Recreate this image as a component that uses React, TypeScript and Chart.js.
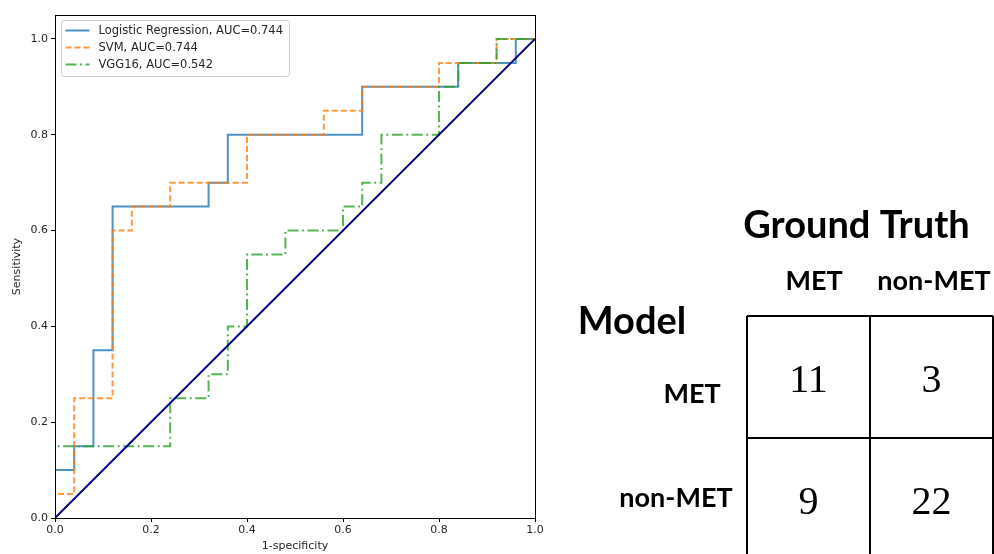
import React, { useEffect, useRef } from "react";
import { Chart, registerables } from "chart.js";

Chart.register(...registerables);

// ---------- ROC data ----------
const lrFpr = [0, 0, 0.04, 0.04, 0.08, 0.08, 0.12, 0.12, 0.32, 0.32, 0.36, 0.36, 0.64, 0.64, 0.84, 0.84, 0.96, 0.96, 1];
const lrTpr = [0, 0.1, 0.1, 0.15, 0.15, 0.35, 0.35, 0.65, 0.65, 0.7, 0.7, 0.8, 0.8, 0.9, 0.9, 0.95, 0.95, 1, 1];

const svmFpr = [0, 0, 0.04, 0.04, 0.12, 0.12, 0.16, 0.16, 0.24, 0.24, 0.4, 0.4, 0.56, 0.56, 0.64, 0.64, 0.8, 0.8, 0.92, 0.92, 1];
const svmTpr = [0, 0.05, 0.05, 0.25, 0.25, 0.6, 0.6, 0.65, 0.65, 0.7, 0.7, 0.8, 0.8, 0.85, 0.85, 0.9, 0.9, 0.95, 0.95, 1, 1];

const vggFpr = [0, 0, 0.24, 0.24, 0.32, 0.32, 0.36, 0.36, 0.4, 0.4, 0.48, 0.48, 0.6, 0.6, 0.64, 0.64, 0.68, 0.68, 0.8, 0.8, 0.84, 0.84, 0.92, 0.92, 1];
const vggTpr = [0, 0.15, 0.15, 0.25, 0.25, 0.3, 0.3, 0.4, 0.4, 0.55, 0.55, 0.6, 0.6, 0.65, 0.65, 0.7, 0.7, 0.8, 0.8, 0.9, 0.9, 0.95, 0.95, 1, 1];

const diagFpr = [0, 1];
const diagTpr = [0, 1];

const seriesLabels = ["Logistic Regression, AUC=0.744", "SVM, AUC=0.744", "VGG16, AUC=0.542"];
const xTicks = [0, 0.2, 0.4, 0.6, 0.8, 1.0];
const yTicks = [0, 0.2, 0.4, 0.6, 0.8, 1.0];
const xTitle = "1-specificity";
const yTitle = "Sensitivity";

// ---------- Confusion matrix data ----------
const matrixTitle = "Ground Truth";
const matrixRowTitle = "Model";
const truthLabels = ["MET", "non-MET"];
const modelLabels = ["MET", "non-MET"];
const matrixValues = [
  [11, 3],
  [9, 22],
];

const pts = (xs: number[], ys: number[]) => xs.map((x, i) => ({ x, y: ys[i] }));

const TEXT = "#262626";
const FONT = "'DejaVu Sans', sans-serif";

const rocLegend = {
  id: "rocLegend",
  afterDraw(chart: any) {
    const ctx = chart.ctx;
    const { left, top } = chart.chartArea;
    const items = chart.data.datasets.filter((d: any) => d.label);
    const x0 = left + 6.5;
    const y0 = top + 5.5;
    const w = 228;
    const h = 56;
    ctx.save();
    ctx.beginPath();
    if (ctx.roundRect) ctx.roundRect(x0, y0, w, h, 3);
    else ctx.rect(x0, y0, w, h);
    ctx.fillStyle = "rgba(255,255,255,0.8)";
    ctx.fill();
    ctx.strokeStyle = "#cccccc";
    ctx.lineWidth = 1;
    ctx.stroke();
    items.forEach((d: any, i: number) => {
      const cy = y0 + 10 + i * 17;
      ctx.beginPath();
      ctx.setLineDash(d.borderDash || []);
      ctx.strokeStyle = d.borderColor;
      ctx.lineWidth = d.borderWidth;
      ctx.moveTo(x0 + 4, cy);
      ctx.lineTo(x0 + 28, cy);
      ctx.stroke();
      ctx.setLineDash([]);
      ctx.fillStyle = TEXT;
      ctx.font = "11.5px " + FONT;
      ctx.textAlign = "left";
      ctx.textBaseline = "middle";
      ctx.fillText(d.label, x0 + 37, cy + 0.5);
    });
    ctx.restore();
  },
};

const frame = {
  id: "frame",
  afterDatasetsDraw(chart: any) {
    const { left, top, right, bottom } = chart.chartArea;
    const ctx = chart.ctx;
    ctx.save();
    ctx.strokeStyle = "#000";
    ctx.lineWidth = 1;
    ctx.strokeRect(left + 0.5, top + 0.5, right - left, bottom - top);
    ctx.restore();
  },
};

const matrixText = {
  id: "matrixText",
  afterDraw(chart: any) {
    const ctx = chart.ctx;
    const meta = chart.getDatasetMeta(0);
    const vals = chart.data.datasets[0].data;
    ctx.save();
    ctx.fillStyle = "#000";
    ctx.textAlign = "center";
    ctx.textBaseline = "alphabetic";
    ctx.font = "40px 'Liberation Serif', serif";
    meta.data.forEach((el: any, i: number) => {
      ctx.fillText(String(vals[i].v), el.x, el.y + 15);
    });
    ctx.font = "bold 38px Lato, sans-serif";
    ctx.fillText(matrixTitle, 296.5, 48);
    ctx.fillText(matrixRowTitle, 72, 144);
    ctx.font = "bold 27px Lato, sans-serif";
    ctx.fillText(truthLabels[0], 254, 100);
    ctx.fillText(truthLabels[1], 374, 100);
    ctx.fillText(modelLabels[0], 132, 213);
    ctx.fillText(modelLabels[1], 116, 317);
    ctx.restore();
  },
};

export default function App() {
  const rocRef = useRef<HTMLCanvasElement>(null);
  const matRef = useRef<HTMLCanvasElement>(null);

  useEffect(() => {
    const roc = new Chart(rocRef.current!, {
      type: "scatter",
      data: {
        datasets: [
          {
            label: seriesLabels[0],
            data: pts(lrFpr, lrTpr),
            showLine: true,
            borderColor: "rgba(31,119,180,0.8)",
            borderWidth: 2,
            pointRadius: 0,
            order: 3,
          },
          {
            label: seriesLabels[1],
            data: pts(svmFpr, svmTpr),
            showLine: true,
            borderColor: "rgba(255,127,14,0.8)",
            borderWidth: 2,
            borderDash: [6, 3],
            pointRadius: 0,
            order: 2,
          },
          {
            label: seriesLabels[2],
            data: pts(vggFpr, vggTpr),
            showLine: true,
            borderColor: "rgba(44,160,44,0.8)",
            borderWidth: 2,
            borderDash: [11, 3.5, 2, 3.5],
            pointRadius: 0,
            order: 1,
          },
          {
            data: pts(diagFpr, diagTpr),
            showLine: true,
            borderColor: "#000080",
            borderWidth: 2,
            pointRadius: 0,
            order: 0,
          } as any,
        ],
      },
      options: {
        animation: false,
        responsive: false,
        layout: { padding: { left: 0, top: 15, right: 15, bottom: 0 } },
        plugins: { legend: { display: false }, tooltip: { enabled: false } },
        scales: {
          x: {
            type: "linear",
            min: 0,
            max: 1,
            afterBuildTicks: (s: any) => {
              s.ticks = xTicks.map((v) => ({ value: v }));
            },
            afterFit: (s: any) => {
              s.height = 36;
            },
            grid: { display: true, drawOnChartArea: false, drawTicks: true, tickLength: 4, color: "#000", lineWidth: 1 },
            border: { display: false },
            ticks: {
              padding: 2,
              color: TEXT,
              font: { family: FONT, size: 11 },
              callback: (v: any) => Number(v).toFixed(1),
            },
            title: { display: true, text: xTitle, color: TEXT, font: { family: FONT, size: 11 }, padding: { top: 0, bottom: 1 } },
          },
          y: {
            type: "linear",
            min: 0,
            max: 1.05,
            afterBuildTicks: (s: any) => {
              s.ticks = yTicks.map((v) => ({ value: v }));
            },
            afterFit: (s: any) => {
              s.width = 55;
            },
            grid: { display: true, drawOnChartArea: false, drawTicks: true, tickLength: 4, color: "#000", lineWidth: 1 },
            border: { display: false },
            ticks: {
              padding: 3,
              color: TEXT,
              font: { family: FONT, size: 11 },
              callback: (v: any) => Number(v).toFixed(1),
            },
            title: { display: true, text: yTitle, color: TEXT, font: { family: FONT, size: 11 }, padding: { top: 11, bottom: 0 } },
          },
        },
      },
      plugins: [frame, rocLegend],
    } as any);

    const cells: any[] = [];
    matrixValues.forEach((row, r) =>
      row.forEach((v, c) => cells.push({ x: c + 0.5, y: modelLabels.length - r - 0.5, v }))
    );

    const mat = new Chart(matRef.current!, {
      type: "scatter",
      data: { datasets: [{ data: cells, pointRadius: 0 }] },
      options: {
        animation: false,
        responsive: false,
        layout: { padding: { left: 187, top: 126, right: 1, bottom: 10 } },
        plugins: { legend: { display: false }, tooltip: { enabled: false } },
        scales: {
          x: {
            type: "linear",
            min: 0,
            max: truthLabels.length,
            afterBuildTicks: (s: any) => {
              s.ticks = [0, 1, 2].map((v) => ({ value: v }));
            },
            afterFit: (s: any) => {
              s.height = 0;
            },
            grid: { color: "#000", lineWidth: 2, drawTicks: false },
            border: { display: false },
            ticks: { display: false },
          },
          y: {
            type: "linear",
            min: 0,
            max: modelLabels.length,
            afterBuildTicks: (s: any) => {
              s.ticks = [0, 1, 2].map((v) => ({ value: v }));
            },
            afterFit: (s: any) => {
              s.width = 0;
            },
            grid: { color: "#000", lineWidth: 2, drawTicks: false },
            border: { display: false },
            ticks: { display: false },
          },
        },
      },
      plugins: [matrixText],
    } as any);

    return () => {
      roc.destroy();
      mat.destroy();
    };
  }, []);

  return (
    <div style={{ position: "absolute", left: 0, top: 0, width: 994, height: 554, overflow: "hidden", background: "#fff" }}>
      <canvas ref={rocRef} width={550} height={554} style={{ position: "absolute", left: 0, top: 0, width: 550, height: 554 }} />
      <canvas ref={matRef} width={434} height={380} style={{ position: "absolute", left: 560, top: 190, width: 434, height: 380 }} />
    </div>
  );
}
